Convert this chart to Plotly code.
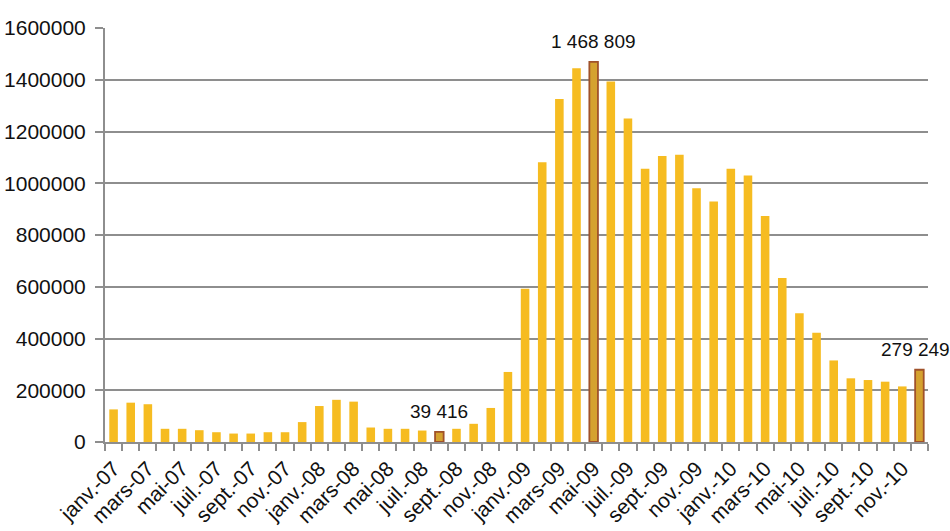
import plotly.graph_objects as go

months_fr = ["janv.", "févr.", "mars", "avr.", "mai", "juin",
             "juil.", "août", "sept.", "oct.", "nov.", "déc."]
years = ["07", "08", "09", "10"]
categories = [f"{m}-{y}" for y in years for m in months_fr]

values = [
    # 2007
    126000, 152000, 146000, 51000, 51000, 45600, 37800, 32600, 32600, 37800, 37800, 76900,
    # 2008
    139000, 163000, 156000, 56000, 51000, 51000, 44300, 39416, 51000, 70300, 131600, 270700,
    # 2009
    592500, 1080800, 1325500, 1444000, 1468809, 1393300, 1250000, 1055900, 1105400, 1110600, 980400, 929600,
    # 2010
    1055900, 1030000, 873800, 634000, 497300, 421800, 315200, 246100, 239500, 233100, 214800, 279249,
]

highlighted = ["août-08", "mai-09", "déc.-10"]

y_ticks = [0, 200000, 400000, 600000, 800000, 1000000, 1200000, 1400000, 1600000]

tick_text = [c if i % 2 == 0 else "" for i, c in enumerate(categories)]

FONT = "Liberation Sans, Arial, sans-serif"


def fmt(v):
    return f"{v:,}".replace(",", " ")


fill = ["#D5A22F" if c in highlighted else "#F6BC21" for c in categories]
line_col = ["#A0522A" if c in highlighted else "rgba(0,0,0,0)" for c in categories]
line_w = [1.8 if c in highlighted else 0 for c in categories]

fig = go.Figure(go.Bar(
    x=categories, y=values,
    marker=dict(color=fill, line=dict(color=line_col, width=line_w)),
    hoverinfo="x+y",
))

annotations = []
for c, v in zip(categories, values):
    if c in highlighted:
        last = c == categories[-1]
        annotations.append(dict(
            x=c, y=v, xref="x", yref="y", text=fmt(v), showarrow=False,
            yanchor="bottom", xanchor="center", yshift=8, xshift=-4 if last else 0,
            font=dict(family=FONT, size=19, color="#111111"),
        ))

fig.update_layout(
    width=950, height=531,
    margin=dict(l=105, r=22, t=28, b=89, autoexpand=False),
    paper_bgcolor="white", plot_bgcolor="white",
    bargap=0.5,
    showlegend=False,
    annotations=annotations,
    font=dict(family=FONT, size=19, color="#111111"),
)
fig.update_yaxes(
    range=[0, 1600000], tickvals=y_ticks, tickformat="d",
    showgrid=True, gridcolor="#8E8E8E", gridwidth=1.5,
    showline=True, linecolor="#8E8E8E", linewidth=2,
    ticks="outside", ticklen=8, tickcolor="#8E8E8E", tickwidth=1.5,
    ticklabelstandoff=5,
    tickfont=dict(size=21), zeroline=False,
)
fig.update_xaxes(
    type="category", tickmode="array", tickvals=categories, ticktext=tick_text,
    range=[-0.5, len(categories) - 0.5],
    tickangle=-45, tickson="boundaries",
    showline=True, linecolor="#8E8E8E", linewidth=2,
    ticks="outside", ticklen=7, tickcolor="#8E8E8E", tickwidth=1.5,
    ticklabelstandoff=4,
    tickfont=dict(size=21),
)

fig.write_html("out.html", config={"displayModeBar": False},
               post_script="document.body.style.margin='0px';")
